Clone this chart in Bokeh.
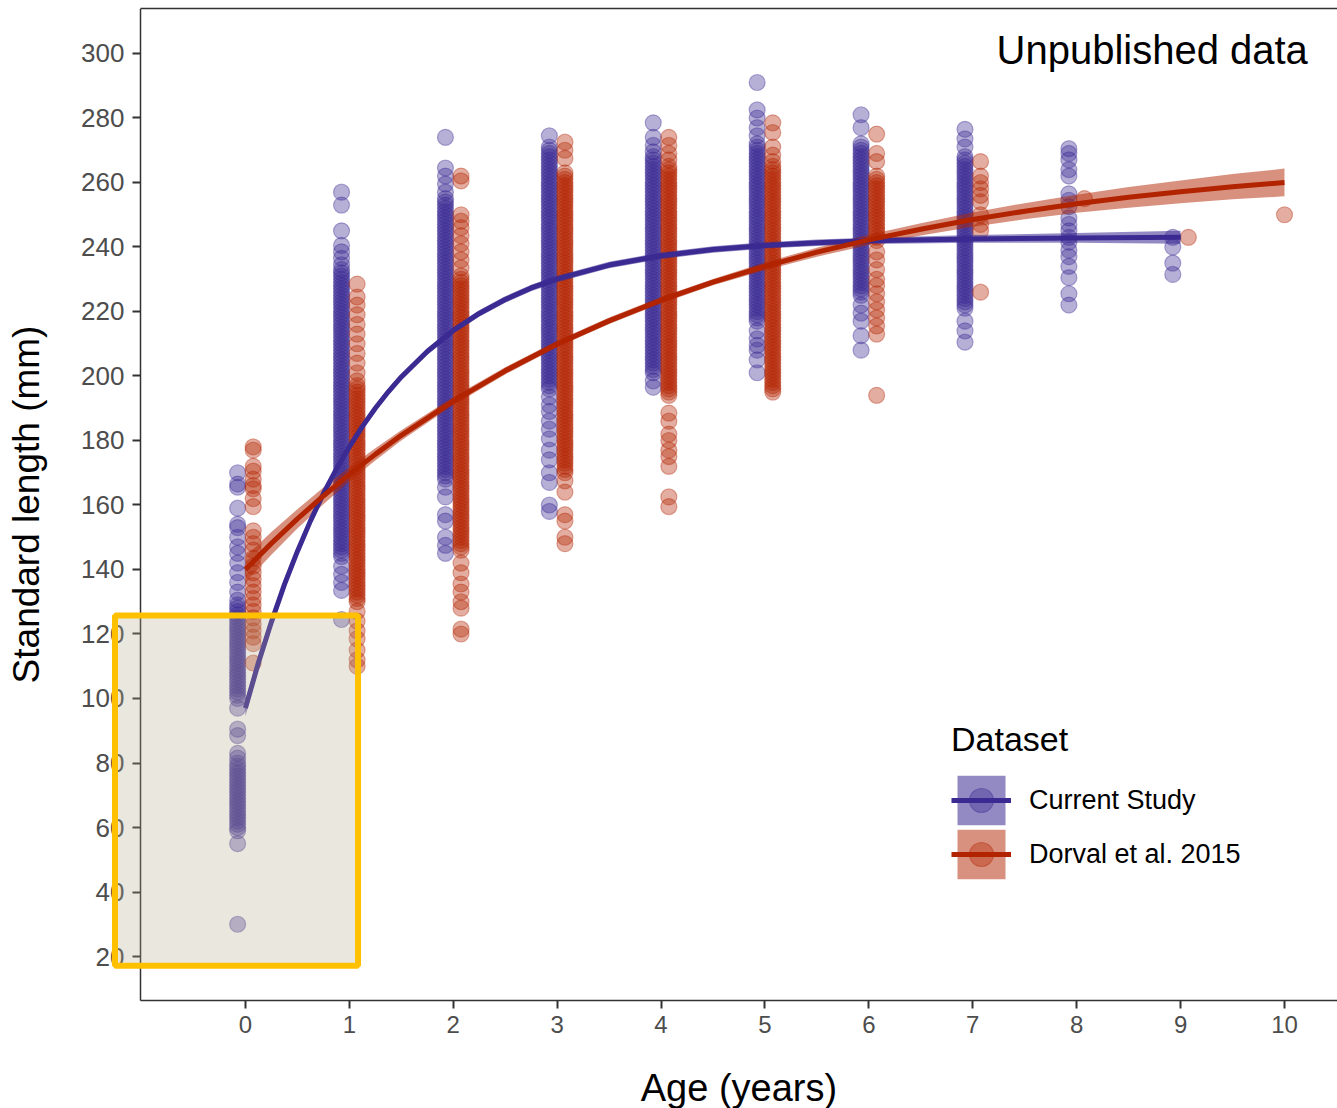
from bokeh.plotting import figure
from bokeh.models import Range1d, Legend, LegendItem, BoxAnnotation, Label, FixedTicker, LinearAxis
from bokeh.embed import file_html
from bokeh.resources import INLINE

# ---------------- data ----------------
x_ticks = [0, 1, 2, 3, 4, 5, 6, 7, 8, 9, 10]
y_ticks = [20, 40, 60, 80, 100, 120, 140, 160, 180, 200, 220, 240, 260, 280, 300]

series_names = ["Current Study", "Dorval et al. 2015"]

# Current Study: standard length (mm) of each fish, by age (years)
current_ages = [0, 1, 2, 3, 4, 5, 6, 7, 8, 9]
current_age0 = [30, 55,
                59, 60, 61, 62, 63, 64, 65, 66, 67, 68, 69, 70, 71, 72, 73, 74, 75, 76, 77, 78, 79, 80,
                81.5, 83, 88.5, 90.5, 97,
                100, 101, 102, 103, 104, 105, 106, 107, 108, 109, 110, 111, 112, 113, 114, 115, 116, 117, 118, 119,
                120, 121, 122, 123, 124, 125, 126, 127, 128, 129,
                130.5, 133, 136, 139, 142, 145, 147, 150, 153, 154, 159, 165.5, 166.5, 170]
current_age1 = [124.5, 133.5, 136, 138.5, 141,
                144, 145, 146, 147, 148, 149, 150, 151, 152, 153, 154, 155, 156, 157, 158, 159, 160, 161, 162, 163,
                164, 165, 166, 167, 168, 169, 170, 171, 172, 173, 174, 175, 176, 177, 178, 179, 180, 181, 182, 183,
                184, 185, 186, 187, 188, 189, 190, 191, 192, 193, 194, 195, 196, 197, 198, 199, 200, 201, 202, 203,
                204, 205, 206, 207, 208, 209, 210, 211, 212, 213, 214, 215, 216, 217, 218, 219, 220, 221, 222, 223,
                224, 225, 226, 227, 228, 229, 230, 231, 232, 233,
                234.5, 236.5, 238.5, 240.5, 245, 253, 257]
current_age2 = [145, 147.5, 150, 155, 157, 162.5, 165.5,
                168, 169, 170, 171, 172, 173, 174, 175, 176, 177, 178, 179, 180, 181, 182, 183, 184, 185, 186, 187,
                188, 189, 190, 191, 192, 193, 194, 195, 196, 197, 198, 199, 200, 201, 202, 203, 204, 205, 206, 207,
                208, 209, 210, 211, 212, 213, 214, 215, 216, 217, 218, 219, 220, 221, 222, 223, 224, 225, 226, 227,
                228, 229, 230, 231, 232, 233, 234, 235, 236, 237, 238, 239, 240, 241, 242, 243, 244, 245, 246, 247,
                248, 249, 250, 251, 252, 253, 254, 255,
                257, 259.5, 262, 264.5, 274]
current_age3 = [158, 160, 167, 170, 174, 177, 180.5, 183.5, 186, 189, 191, 193.5,
                196, 197, 198, 199, 200, 201, 202, 203, 204, 205, 206, 207, 208, 209, 210, 211, 212, 213, 214, 215,
                216, 217, 218, 219, 220, 221, 222, 223, 224, 225, 226, 227, 228, 229, 230, 231, 232, 233, 234, 235,
                236, 237, 238, 239, 240, 241, 242, 243, 244, 245, 246, 247, 248, 249, 250, 251, 252, 253, 254, 255,
                256, 257, 258, 259, 260, 261, 262, 263, 264, 265, 266, 267, 268, 269, 270, 271,
                274.5]
current_age4 = [196.5, 198.5,
                201, 202, 203, 204, 205, 206, 207, 208, 209, 210, 211, 212, 213, 214, 215, 216, 217, 218, 219, 220,
                221, 222, 223, 224, 225, 226, 227, 228, 229, 230, 231, 232, 233, 234, 235, 236, 237, 238, 239, 240,
                241, 242, 243, 244, 245, 246, 247, 248, 249, 250, 251, 252, 253, 254, 255, 256, 257, 258, 259, 260,
                261, 262, 263, 264, 265, 266, 267, 268,
                269.5, 271.5, 274, 278.5]
current_age5 = [201, 205, 208, 209.5, 211.5, 214,
                217, 218, 219, 220, 221, 222, 223, 224, 225, 226, 227, 228, 229, 230, 231, 232, 233, 234, 235, 236,
                237, 238, 239, 240, 241, 242, 243, 244, 245, 246, 247, 248, 249, 250, 251, 252, 253, 254, 255, 256,
                257, 258, 259, 260, 261, 262, 263, 264, 265, 266, 267, 268, 269, 270, 271, 272,
                274.5, 277, 280, 282.5, 291]
current_age6 = [208, 212.5, 217, 219.5, 222,
                225, 226, 227, 228, 229, 230, 231, 232, 233, 234, 235, 236, 237, 238, 239, 240, 241, 242, 243, 244,
                245, 246, 247, 248, 249, 250, 251, 252, 253, 254, 255, 256, 257, 258, 259, 260, 261, 262, 263, 264,
                265, 266, 267, 268, 269, 270, 271, 272,
                277, 281]
current_age7 = [210.5, 214, 217,
                221, 222, 223, 224, 225, 226, 227, 228, 229, 230, 231, 232, 233, 234, 235, 236, 237, 238, 239, 240,
                241, 242, 243, 244, 245, 246, 247, 248, 249, 250, 251, 252, 253, 254, 255, 256, 257, 258, 259, 260,
                261, 262, 263, 264, 265, 266, 267, 268,
                271, 273.5, 276.5]
current_age8 = [222, 225.5, 230.5, 234, 237, 239, 241.5, 243, 245, 247, 249, 252.5, 254.5, 256.5,
                262, 264, 267, 269, 270.5]
current_age9 = [231.5, 235, 240, 243]
current_lengths = [current_age0, current_age1, current_age2, current_age3, current_age4,
                   current_age5, current_age6, current_age7, current_age8, current_age9]

# Dorval et al. 2015: standard length (mm) of each fish, by age (years)
dorval_ages = [0, 1, 2, 3, 4, 5, 6, 7, 8, 9, 10]
dorval_age0 = [111, 117, 119, 121, 123, 125, 127, 129, 131, 133, 135, 137, 139, 141,
               143.5, 146, 148, 150, 152, 159.5, 162, 165, 166, 168, 170.5, 172, 177, 178]
dorval_age1 = [110, 112, 115, 118.5, 121, 124, 127,
               130, 131, 132, 133, 134, 135, 136, 137, 138, 139, 140, 141, 142, 143, 144, 145, 146, 147, 148, 149,
               150, 151, 152, 153, 154, 155, 156, 157, 158, 159, 160, 161, 162, 163, 164, 165, 166, 167, 168, 169,
               170, 171, 172, 173, 174, 175, 176, 177, 178, 179, 180, 181, 182, 183, 184, 185, 186, 187, 188, 189,
               190, 191, 192, 193, 194, 195, 196, 197,
               198.5, 201, 204, 207, 210, 213, 216, 219, 222, 224.5, 228.5]
dorval_age2 = [120, 121.5, 128, 130, 133, 135.5, 139, 142,
               146, 147, 148, 149, 150, 151, 152, 153, 154, 155, 156, 157, 158, 159, 160, 161, 162, 163, 164, 165,
               166, 167, 168, 169, 170, 171, 172, 173, 174, 175, 176, 177, 178, 179, 180, 181, 182, 183, 184, 185,
               186, 187, 188, 189, 190, 191, 192, 193, 194, 195, 196, 197, 198, 199, 200, 201, 202, 203, 204, 205,
               206, 207, 208, 209, 210, 211, 212, 213, 214, 215, 216, 217, 218, 219, 220, 221, 222, 223, 224, 225,
               226, 227, 228, 229, 230, 231,
               233.5, 236, 238.5, 241, 243.5, 246, 248, 250, 260.5, 262]
dorval_age3 = [148, 150, 155, 157, 164, 167.5,
               170, 171, 172, 173, 174, 175, 176, 177, 178, 179, 180, 181, 182, 183, 184, 185, 186, 187, 188, 189,
               190, 191, 192, 193, 194, 195, 196, 197, 198, 199, 200, 201, 202, 203, 204, 205, 206, 207, 208, 209,
               210, 211, 212, 213, 214, 215, 216, 217, 218, 219, 220, 221, 222, 223, 224, 225, 226, 227, 228, 229,
               230, 231, 232, 233, 234, 235, 236, 237, 238, 239, 240, 241, 242, 243, 244, 245, 246, 247, 248, 249,
               250, 251, 252, 253, 254, 255, 256, 257, 258, 259, 260, 261, 262, 263,
               267.5, 270, 272.5]
dorval_age4 = [159.5, 162.5, 172, 175, 177, 180, 182, 186, 188.5,
               194, 195, 196, 197, 198, 199, 200, 201, 202, 203, 204, 205, 206, 207, 208, 209, 210, 211, 212, 213,
               214, 215, 216, 217, 218, 219, 220, 221, 222, 223, 224, 225, 226, 227, 228, 229, 230, 231, 232, 233,
               234, 235, 236, 237, 238, 239, 240, 241, 242, 243, 244, 245, 246, 247, 248, 249, 250, 251, 252, 253,
               254, 255, 256, 257, 258, 259, 260, 261, 262, 263, 264, 265,
               267, 269, 271.5, 274]
dorval_age5 = [195, 196, 197, 198, 199, 200, 201, 202, 203, 204, 205, 206, 207, 208, 209, 210, 211, 212, 213,
               214, 215, 216, 217, 218, 219, 220, 221, 222, 223, 224, 225, 226, 227, 228, 229, 230, 231, 232, 233,
               234, 235, 236, 237, 238, 239, 240, 241, 242, 243, 244, 245, 246, 247, 248, 249, 250, 251, 252, 253,
               254, 255, 256, 257, 258, 259, 260, 261, 262, 263, 264, 265,
               266.5, 268.5, 271, 275.5, 278.5]
dorval_age6 = [194, 213, 215.5, 218, 220.5, 223, 225.5, 228, 230, 233, 236, 238.5,
               242, 243, 244, 245, 246, 247, 248, 249, 250, 251, 252, 253, 254, 255, 256, 257, 258, 259, 260, 261, 262,
               266.5, 269, 275]
dorval_age7 = [226, 245, 247, 250, 254, 256, 258, 260, 262, 266.5]
dorval_age8 = [255]
dorval_age9 = [243]
dorval_age10 = [250]
dorval_lengths = [dorval_age0, dorval_age1, dorval_age2, dorval_age3, dorval_age4, dorval_age5,
                  dorval_age6, dorval_age7, dorval_age8, dorval_age9, dorval_age10]

# Fitted growth curves with their confidence half-widths (mm)
current_fit_age = [0, 0.125, 0.25, 0.375, 0.5, 0.625, 0.75, 0.875, 1, 1.125, 1.25, 1.375, 1.5, 1.75, 2,
                   2.25, 2.5, 2.75, 3, 3.5, 4, 4.5, 5, 5.5, 6, 7, 8, 9]
current_fit_len = [97, 111.1, 123.7, 135.3, 145.6, 155.0, 163.5, 171.1, 178.0, 184.3, 190.0, 195.1, 199.7,
                   207.6, 214.1, 219.4, 223.7, 227.3, 230.1, 234.4, 237.3, 239.2, 240.5, 241.3, 241.9, 242.5,
                   242.8, 243]
current_fit_se = [2.5, 2.2, 2, 1.8, 1.5, 1.3, 1.2, 1.1, 1, 1, 1, 1, 1, 1, 1, 1, 1, 1, 1, 1, 1, 1, 1, 1, 1,
                  1.2, 1.5, 2]

dorval_fit_age = [0, 0.25, 0.5, 0.75, 1, 1.25, 1.5, 2, 2.5, 3, 3.5, 4, 4.5, 5, 5.5, 6, 6.5, 7, 7.5, 8,
                  8.5, 9, 9.5, 10]
dorval_fit_len = [140, 148.1, 155.7, 162.8, 169.5, 175.7, 181.6, 192.2, 201.6, 209.9, 217.1, 223.5, 229.1,
                  234.0, 238.4, 242.2, 245.5, 248.5, 251.1, 253.4, 255.4, 257.1, 258.7, 260.0]
dorval_fit_se = [4, 3.5, 3, 2.6, 2.2, 1.9, 1.6, 1.3, 1.1, 1, 1, 1, 1, 1.2, 1.4, 1.6, 1.9, 2.2, 2.5, 2.8,
                 3.2, 3.5, 3.9, 4.3]

# ---------------- styling ----------------
BLUE = "#3a2a92"
RED = "#b22300"
FONT = "Liberation Sans"
DODGE = 0.075
X_START, X_END = -1.0106, 10.5102    # the bordered panel
Y_START, Y_END = 6.36, 313.95
FRAME_X_START = -2.3571   # the drawing frame reaches the canvas edges, so the
FRAME_Y_START = -27.13    # highlight box and the axis texts are never clipped


def dodge_points(ages, groups, other_ages, side):
    xs, ys = [], []
    for a, vals in zip(ages, groups):
        off = side * DODGE if a in other_ages else 0.0
        xs += [a + off] * len(vals)
        ys += list(vals)
    return xs, ys


cx, cy = dodge_points(current_ages, current_lengths, dorval_ages, -1)
dx, dy = dodge_points(dorval_ages, dorval_lengths, current_ages, +1)

p = figure(width=1337, height=1108, output_backend="svg", toolbar_location=None,
           x_range=Range1d(FRAME_X_START, X_END), y_range=Range1d(FRAME_Y_START, Y_END),
           min_border_left=0, min_border_right=0, min_border_top=8, min_border_bottom=0,
           background_fill_color="white", border_fill_color="white")

p.xgrid.visible = False
p.ygrid.visible = False
p.outline_line_color = None

# points
cs_pts = p.scatter(cx, cy, marker="circle", size=16, fill_color=BLUE, fill_alpha=0.37,
                   line_color=BLUE, line_alpha=0.37, line_width=1.2)
dv_pts = p.scatter(dx, dy, marker="circle", size=16, fill_color=RED, fill_alpha=0.37,
                   line_color=RED, line_alpha=0.37, line_width=1.2)

# confidence bands
cs_band = p.varea(x=current_fit_age,
                  y1=[v - s for v, s in zip(current_fit_len, current_fit_se)],
                  y2=[v + s for v, s in zip(current_fit_len, current_fit_se)],
                  fill_color=BLUE, fill_alpha=0.55)
dv_band = p.varea(x=dorval_fit_age,
                  y1=[v - s for v, s in zip(dorval_fit_len, dorval_fit_se)],
                  y2=[v + s for v, s in zip(dorval_fit_len, dorval_fit_se)],
                  fill_color=RED, fill_alpha=0.5)

# fitted lines
cs_line = p.line(current_fit_age, current_fit_len, line_color=BLUE, line_width=5)
dv_line = p.line(dorval_fit_age, dorval_fit_len, line_color=RED, line_width=5)

# axes
for ax in (p.xaxis[0], p.yaxis[0]):
    ax.axis_line_color = "#333333"
    ax.axis_line_width = 1.5
    ax.major_tick_line_color = "#333333"
    ax.major_tick_line_width = 2
    ax.major_tick_out = 8
    ax.major_tick_in = 0
    ax.minor_tick_out = 0
    ax.minor_tick_in = 0
    ax.major_label_text_color = "#4d4d4d"
    ax.major_label_text_font = FONT
    ax.axis_label_text_font = FONT
    ax.axis_label_text_font_style = "normal"
    ax.axis_label_text_color = "black"
    ax.major_label_standoff = 8

p.yaxis.fixed_location = X_START
p.xaxis.fixed_location = Y_START
p.xaxis.bounds = (X_START, X_END)
p.yaxis.bounds = (Y_START, Y_END)
p.xaxis.ticker = FixedTicker(ticks=x_ticks)
p.yaxis.ticker = FixedTicker(ticks=y_ticks)
p.xaxis.major_label_text_font_size = "24px"
p.yaxis.major_label_text_font_size = "26px"
p.yaxis.axis_label = "Standard length (mm)"
p.yaxis.axis_label_text_font_size = "37px"
p.yaxis.axis_label_standoff = 31

# x-axis title, centred under the bordered panel
p.add_layout(Label(x=(X_START + X_END) / 2, y=-20.9, text="Age (years)",
                   text_align="center", text_baseline="middle",
                   text_font=FONT, text_font_size="38px", text_color="black"))

# top border of the panel
top_rule = LinearAxis(ticker=FixedTicker(ticks=[]), bounds=(X_START, X_END),
                      axis_line_color="#333333", axis_line_width=1.5,
                      major_tick_out=0, major_tick_in=0, minor_tick_out=0, minor_tick_in=0,
                      major_label_standoff=0, major_label_text_font_size="0px")
p.add_layout(top_rule, "above")

# legend (two stacked legends so that the keys sit exactly as in the reference)
common = dict(label_text_font=FONT, label_text_font_size="27px", label_text_color="black",
              glyph_width=60, glyph_height=62, label_standoff=18,
              padding=0, margin=0, border_line_alpha=0, background_fill_alpha=0)
legend_a = Legend(items=[LegendItem(label=series_names[0], renderers=[cs_band, cs_pts, cs_line])],
                  location=(951, 277), title="Dataset",
                  title_text_font=FONT, title_text_font_size="34px", title_text_font_style="normal",
                  title_text_color="black", title_standoff=10, **common)
legend_b = Legend(items=[LegendItem(label=series_names[1], renderers=[dv_band, dv_pts, dv_line])],
                  location=(951, 223), **common)
p.add_layout(legend_a)
p.add_layout(legend_b)

# annotation text
p.add_layout(Label(x=10.225, y=301.0, text="Unpublished data", text_align="right",
                   text_baseline="alphabetic", text_font=FONT, text_font_size="40px",
                   text_color="black"))

# highlighted box over the youngest ages
p.add_layout(BoxAnnotation(left=-1.255, right=1.084, bottom=17.1, top=125.7,
                           fill_color="#b5a88c", fill_alpha=0.28,
                           line_color="#ffc000", line_width=6, line_alpha=1.0))

open("out.html", "w").write(file_html(p, INLINE))
